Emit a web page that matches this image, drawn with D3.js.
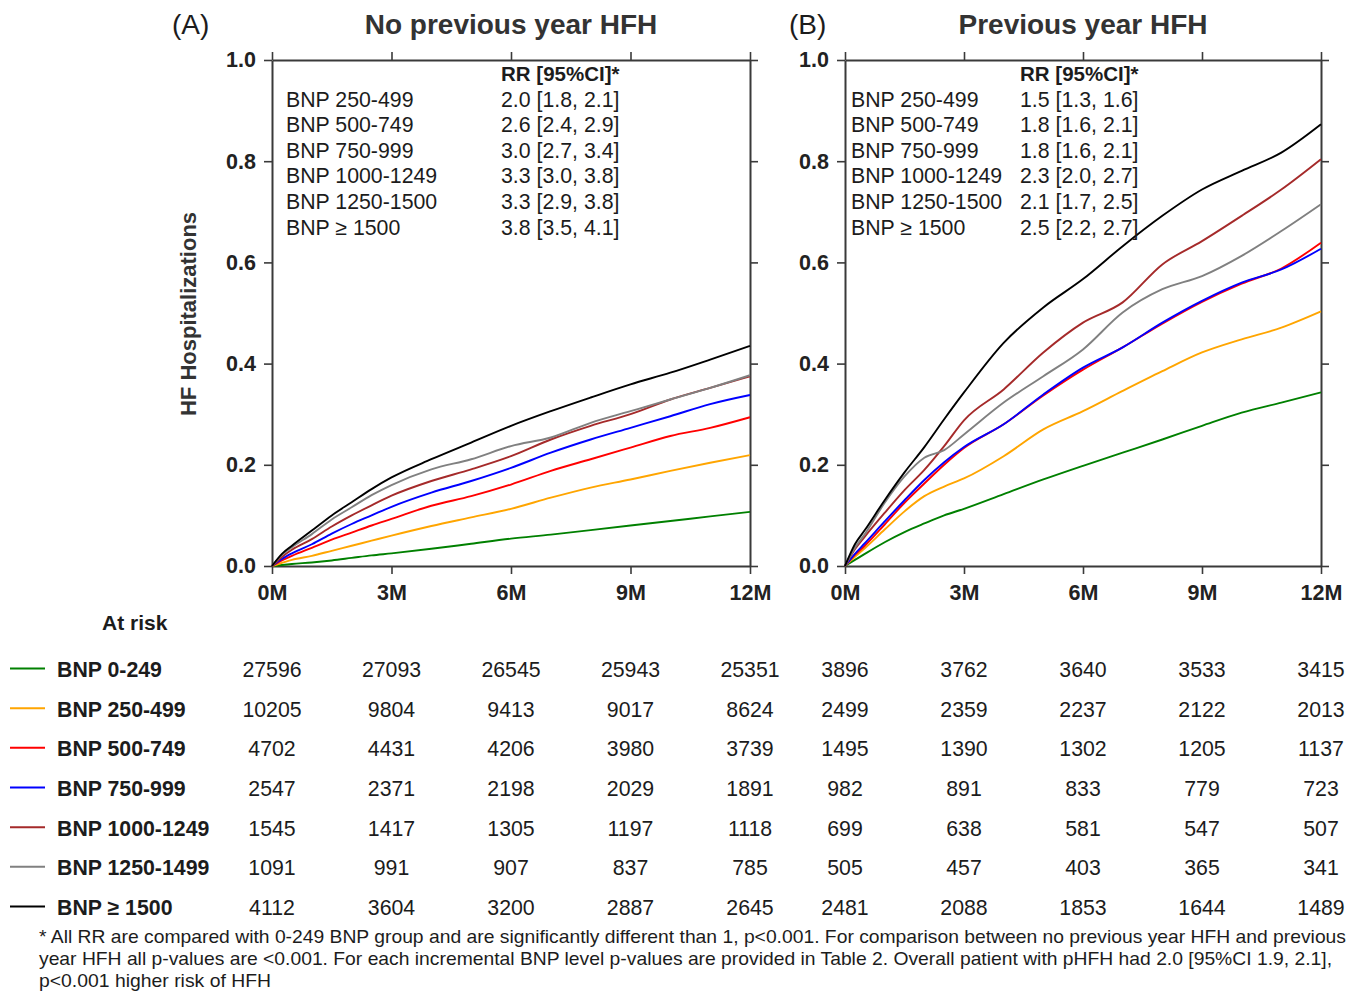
<!DOCTYPE html>
<html>
<head>
<meta charset="utf-8">
<script src="https://cdn.jsdelivr.net/npm/d3@7"></script>
<style>
  html, body { margin: 0; padding: 0; background: #fff; }
  svg { display: block; font-family: "Liberation Sans", Arial, Helvetica, sans-serif; }
</style>
</head>
<body>
<svg id="chart" width="1365" height="993"></svg>
<script>
// ---- data ----------------------------------------------------------------
const groups = ["BNP 0-249", "BNP 250-499", "BNP 500-749", "BNP 750-999",
                "BNP 1000-1249", "BNP 1250-1499", "BNP \u2265 1500"];
const groupColors = ["#008000", "#FFA500", "#FF0000", "#0000FF", "#A52A2A", "#808080", "#000000"];

// follow-up time (months) at which the cumulative incidence is given
const months = [0, 0.25, 0.5, 1, 1.5, 2, 2.5, 3, 4, 5, 6, 7, 8, 9, 10, 11, 12];

// (A) no previous year HFH – cumulative HF hospitalizations
const noPrevBnp0 =    [0, 0.002, 0.004, 0.007, 0.011, 0.016, 0.021, 0.025, 0.034, 0.044, 0.054, 0.062, 0.071, 0.080, 0.089, 0.098, 0.107];
const noPrevBnp250 =  [0, 0.006, 0.012, 0.020, 0.030, 0.040, 0.050, 0.060, 0.079, 0.096, 0.113, 0.135, 0.155, 0.171, 0.188, 0.204, 0.219];
const noPrevBnp500 =  [0, 0.011, 0.020, 0.036, 0.052, 0.066, 0.080, 0.093, 0.119, 0.138, 0.161, 0.188, 0.211, 0.234, 0.257, 0.273, 0.294];
const noPrevBnp750 =  [0, 0.014, 0.025, 0.043, 0.064, 0.083, 0.100, 0.117, 0.145, 0.168, 0.194, 0.224, 0.250, 0.273, 0.296, 0.320, 0.338];
const noPrevBnp1000 = [0, 0.018, 0.032, 0.053, 0.078, 0.100, 0.120, 0.139, 0.168, 0.191, 0.217, 0.250, 0.277, 0.300, 0.329, 0.352, 0.375];
const noPrevBnp1250 = [0, 0.022, 0.037, 0.063, 0.092, 0.116, 0.140, 0.160, 0.191, 0.211, 0.237, 0.254, 0.283, 0.306, 0.329, 0.352, 0.377];
const noPrevBnp1500 = [0, 0.024, 0.040, 0.070, 0.100, 0.126, 0.152, 0.175, 0.211, 0.244, 0.277, 0.306, 0.333, 0.359, 0.382, 0.408, 0.435];

// (B) previous year HFH – cumulative HF hospitalizations
const prevBnp0 =    [0, 0.012, 0.024, 0.047, 0.067, 0.084, 0.100, 0.113, 0.142, 0.171, 0.198, 0.224, 0.250, 0.277, 0.303, 0.323, 0.343];
const prevBnp250 =  [0, 0.018, 0.035, 0.072, 0.108, 0.138, 0.157, 0.173, 0.217, 0.270, 0.306, 0.346, 0.385, 0.422, 0.448, 0.471, 0.503];
const prevBnp500 =  [0, 0.022, 0.040, 0.082, 0.125, 0.163, 0.200, 0.233, 0.280, 0.337, 0.388, 0.432, 0.479, 0.522, 0.558, 0.588, 0.639];
const prevBnp750 =  [0, 0.024, 0.045, 0.088, 0.130, 0.170, 0.205, 0.235, 0.280, 0.339, 0.392, 0.432, 0.481, 0.524, 0.560, 0.586, 0.627];
const prevBnp1000 = [0, 0.033, 0.058, 0.105, 0.150, 0.190, 0.237, 0.288, 0.349, 0.422, 0.481, 0.521, 0.596, 0.642, 0.692, 0.744, 0.804];
const prevBnp1250 = [0, 0.036, 0.063, 0.125, 0.177, 0.214, 0.229, 0.260, 0.323, 0.375, 0.428, 0.501, 0.547, 0.573, 0.613, 0.662, 0.715];
const prevBnp1500 = [0, 0.043, 0.071, 0.130, 0.185, 0.235, 0.290, 0.343, 0.441, 0.511, 0.567, 0.632, 0.692, 0.744, 0.781, 0.817, 0.873];

// relative risks vs BNP 0-249
const rrLabels = ["BNP 250-499", "BNP 500-749", "BNP 750-999", "BNP 1000-1249", "BNP 1250-1500", "BNP \u2265 1500"];
const noPrevRR =   [2.0, 2.6, 3.0, 3.3, 3.3, 3.8];
const noPrevRRlo = [1.8, 2.4, 2.7, 3.0, 2.9, 3.5];
const noPrevRRhi = [2.1, 2.9, 3.4, 3.8, 3.8, 4.1];
const prevRR =     [1.5, 1.8, 1.8, 2.3, 2.1, 2.5];
const prevRRlo =   [1.3, 1.6, 1.6, 2.0, 1.7, 2.2];
const prevRRhi =   [1.6, 2.1, 2.1, 2.7, 2.5, 2.7];

// numbers at risk at 0, 3, 6, 9, 12 months
const riskMonths = [0, 3, 6, 9, 12];
const noPrevAtRisk = [
  [27596, 27093, 26545, 25943, 25351],
  [10205, 9804, 9413, 9017, 8624],
  [4702, 4431, 4206, 3980, 3739],
  [2547, 2371, 2198, 2029, 1891],
  [1545, 1417, 1305, 1197, 1118],
  [1091, 991, 907, 837, 785],
  [4112, 3604, 3200, 2887, 2645]
];
const prevAtRisk = [
  [3896, 3762, 3640, 3533, 3415],
  [2499, 2359, 2237, 2122, 2013],
  [1495, 1390, 1302, 1205, 1137],
  [982, 891, 833, 779, 723],
  [699, 638, 581, 547, 507],
  [505, 457, 403, 365, 341],
  [2481, 2088, 1853, 1644, 1489]
];

const xTicks = [0, 3, 6, 9, 12];
const yTicks = [0, 0.2, 0.4, 0.6, 0.8, 1.0];

const footnote = [
  "* All RR are compared with 0-249 BNP group and are significantly different than 1, p<0.001. For comparison between no previous year HFH and previous",
  "year HFH all p-values are <0.001. For each incremental BNP level p-values are provided in Table 2. Overall patient with pHFH had 2.0 [95%CI 1.9, 2.1],",
  "p<0.001 higher risk of HFH"
];

// ---- drawing -------------------------------------------------------------
const svg = d3.select("#chart");
const ink = "#1c1c1c";
const axisInk = "#3a3a3a";
const y = d3.scaleLinear().domain([0, 1]).range([566, 60]);

const panels = [
  { tag: "(A)", title: "No previous year HFH", x0: 272, x1: 750, tagX: 172,
    series: [noPrevBnp0, noPrevBnp250, noPrevBnp500, noPrevBnp750, noPrevBnp1000, noPrevBnp1250, noPrevBnp1500],
    rr: noPrevRR, lo: noPrevRRlo, hi: noPrevRRhi, labX: 286, valX: 501, atRisk: noPrevAtRisk },
  { tag: "(B)", title: "Previous year HFH", x0: 845, x1: 1321, tagX: 789,
    series: [prevBnp0, prevBnp250, prevBnp500, prevBnp750, prevBnp1000, prevBnp1250, prevBnp1500],
    rr: prevRR, lo: prevRRlo, hi: prevRRhi, labX: 851, valX: 1020, atRisk: prevAtRisk }
];

const f1 = d3.format(".1f");
const rowY = d3.scaleLinear().domain([0, 6]).range([668.5, 906.5]);

panels.forEach(p => {
  const x = d3.scaleLinear().domain([0, 12]).range([p.x0, p.x1]);
  const g = svg.append("g");

  // titles
  g.append("text").attr("x", p.tagX).attr("y", 34)
    .attr("font-size", 28).attr("fill", ink).text(p.tag);
  g.append("text").attr("x", (p.x0 + p.x1) / 2).attr("y", 34)
    .attr("text-anchor", "middle").attr("font-size", 28).attr("font-weight", "bold")
    .attr("fill", "#333").text(p.title);

  // framed axes with outward ticks on all four sides
  const styleAxis = sel => {
    sel.selectAll(".domain").attr("stroke", axisInk).attr("stroke-width", 2);
    sel.selectAll(".tick line").attr("stroke", axisInk).attr("stroke-width", 1.6);
    sel.selectAll("text").attr("fill", "#222").attr("font-size", 21.5).attr("font-weight", "bold")
      .attr("font-family", "'Liberation Sans', Arial, sans-serif");
  };
  g.append("g").attr("transform", `translate(0,${y(0)})`)
    .call(d3.axisBottom(x).tickValues(xTicks).tickFormat(d => d + "M").tickSize(8).tickSizeOuter(0).tickPadding(11))
    .call(styleAxis);
  g.append("g").attr("transform", `translate(0,${y(1)})`)
    .call(d3.axisTop(x).tickValues(xTicks).tickFormat("").tickSize(8).tickSizeOuter(0))
    .call(styleAxis);
  g.append("g").attr("transform", `translate(${p.x0},0)`)
    .call(d3.axisLeft(y).tickValues(yTicks).tickFormat(d3.format(".1f")).tickSize(8).tickSizeOuter(0).tickPadding(8))
    .call(styleAxis);
  g.append("g").attr("transform", `translate(${p.x1},0)`)
    .call(d3.axisRight(y).tickValues(yTicks).tickFormat("").tickSize(8).tickSizeOuter(0))
    .call(styleAxis);

  // cumulative incidence curves
  const line = d3.line().x((d, i) => x(months[i])).y(d => y(d)).curve(d3.curveMonotoneX);
  p.series.forEach((vals, k) => {
    g.append("path").datum(vals).attr("d", line)
      .attr("fill", "none").attr("stroke", groupColors[k]).attr("stroke-width", 1.9)
      .attr("stroke-linejoin", "round");
  });

  // relative-risk legend
  g.append("text").attr("x", p.valX).attr("y", 81).attr("font-size", 20.5)
    .attr("font-weight", "bold").attr("fill", ink).text("RR [95%CI]*");
  rrLabels.forEach((lab, i) => {
    const yy = 106.5 + i * 25.6;
    g.append("text").attr("x", p.labX).attr("y", yy).attr("font-size", 21.3).attr("fill", ink).text(lab);
    g.append("text").attr("x", p.valX).attr("y", yy).attr("font-size", 21.3).attr("fill", ink)
      .text(`${f1(p.rr[i])} [${f1(p.lo[i])}, ${f1(p.hi[i])}]`);
  });

  // numbers at risk
  p.atRisk.forEach((row, r) => {
    row.forEach((n, c) => {
      g.append("text").attr("x", x(riskMonths[c])).attr("y", rowY(r) + 8.5)
        .attr("text-anchor", "middle").attr("font-size", 21.3).attr("fill", ink).text(n);
    });
  });
});

// y-axis title
svg.append("text").attr("transform", "translate(196,314) rotate(-90)")
  .attr("text-anchor", "middle").attr("font-size", 22).attr("font-weight", "bold")
  .attr("fill", "#333").text("HF Hospitalizations");

// at-risk table legend
svg.append("text").attr("x", 102).attr("y", 630).attr("font-size", 21)
  .attr("font-weight", "bold").attr("fill", ink).text("At risk");
groups.forEach((lab, r) => {
  svg.append("line").attr("x1", 10).attr("x2", 45).attr("y1", rowY(r)).attr("y2", rowY(r))
    .attr("stroke", groupColors[r]).attr("stroke-width", 2);
  svg.append("text").attr("x", 57).attr("y", rowY(r) + 8.5).attr("font-size", 21.3)
    .attr("font-weight", "bold").attr("fill", ink).text(lab);
});

// footnote
const footLen = [1307, 1293, 232];
footnote.forEach((t, i) => {
  svg.append("text").attr("x", 39).attr("y", 943 + i * 22)
    .attr("font-size", 19).attr("fill", ink)
    .attr("font-family", "'Liberation Sans Narrow', 'Arial Narrow', 'Liberation Sans', sans-serif")
    .attr("textLength", footLen[i]).attr("lengthAdjust", "spacingAndGlyphs")
    .text(t);
});
</script>
</body>
</html>
